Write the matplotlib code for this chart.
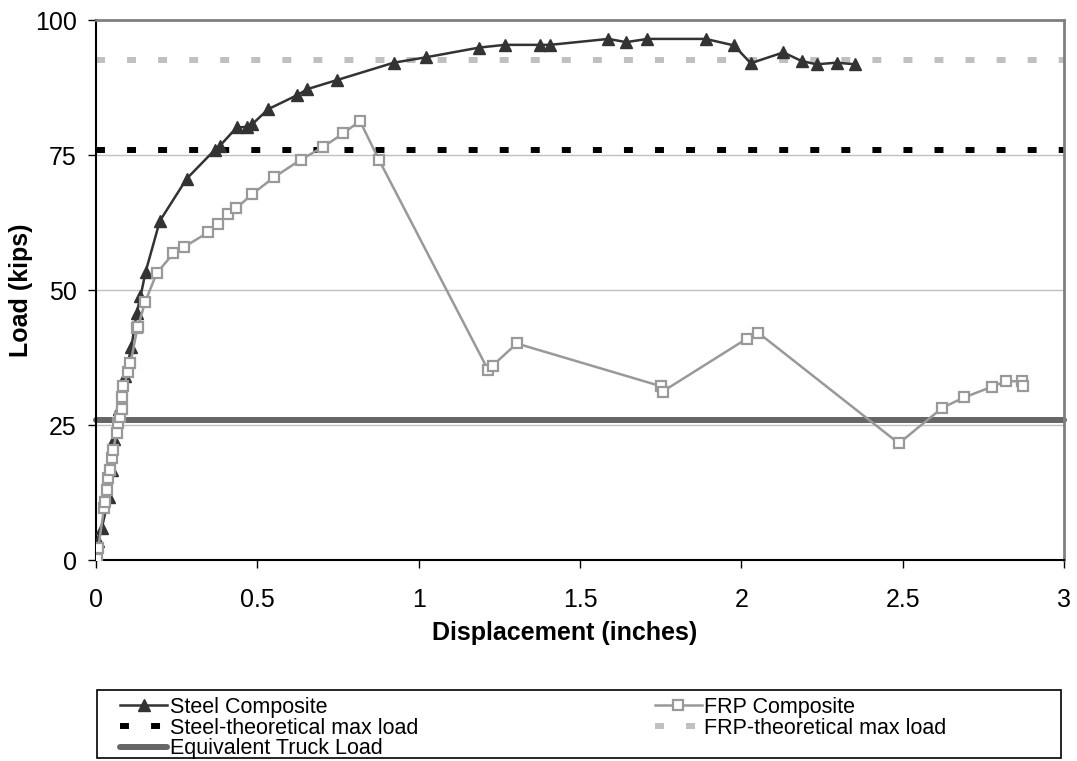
import matplotlib
matplotlib.use('Agg')
import matplotlib.pyplot as plt
from matplotlib.patches import Rectangle

plt.rcParams['font.family'] = ['Liberation Sans', 'DejaVu Sans']

# Steel composite girder test
steel_x = [0, 0.005, 0.018, 0.04, 0.05, 0.055, 0.07, 0.09, 0.11, 0.126, 0.138, 0.154,
           0.198, 0.281, 0.369, 0.384, 0.436, 0.467, 0.484, 0.534, 0.624, 0.655, 0.748,
           0.923, 1.023, 1.188, 1.267, 1.376, 1.407, 1.588, 1.643, 1.709, 1.889, 1.977,
           2.029, 2.130, 2.187, 2.233, 2.295, 2.352]
steel_y = [0, 3.6, 5.9, 11.7, 16.7, 22.5, 28.0, 34.0, 39.5, 45.7, 48.8, 53.4,
           62.8, 70.6, 76.0, 76.7, 80.1, 80.2, 80.7, 83.5, 86.1, 87.2, 88.9,
           92.1, 93.1, 94.9, 95.4, 95.4, 95.4, 96.5, 95.9, 96.5, 96.5, 95.3,
           92.0, 94.0, 92.4, 91.8, 92.1, 91.8]

# FRP composite girder test
frp_x = [0.002, 0.007, 0.025, 0.028, 0.035, 0.038, 0.043, 0.051, 0.053, 0.064, 0.069,
         0.074, 0.080, 0.082, 0.085, 0.100, 0.107, 0.128, 0.130, 0.152, 0.188, 0.240,
         0.274, 0.348, 0.379, 0.408, 0.434, 0.485, 0.552, 0.634, 0.704, 0.766, 0.818,
         0.877, 1.216, 1.229, 1.304, 1.750, 1.756, 2.017, 2.052, 2.488, 2.623, 2.690,
         2.777, 2.819, 2.871, 2.873]
frp_y = [0.2, 2.2, 9.6, 10.8, 13.0, 15.1, 16.7, 18.8, 20.4, 23.5, 25.3,
         26.5, 28.0, 30.1, 32.2, 34.8, 36.4, 42.9, 43.2, 47.7, 53.1, 56.8,
         58.0, 60.7, 62.3, 64.0, 65.1, 67.8, 70.9, 74.1, 76.5, 79.0, 81.3,
         74.1, 35.1, 36.0, 40.1, 32.2, 31.2, 41.0, 42.1, 21.6, 28.2, 30.1,
         32.1, 33.1, 33.1, 32.3]

steel_theory = 76.0
frp_theory = 92.6
truck_load = 26.0

fig = plt.figure(figsize=(10.77, 7.61), dpi=100)
ax = fig.add_axes([0.0891, 0.2641, 0.8989, 0.7096])

dash = (0, (1.5, 3.7))
ax.axhline(frp_theory, color='#c0c0c0', lw=4.3, ls=dash, dash_capstyle='butt', zorder=2,
           label='FRP-theoretical max load')
ax.axhline(steel_theory, color='black', lw=4.3, ls=dash, dash_capstyle='butt', zorder=2,
           label='Steel-theoretical max load')
ax.axhline(truck_load, color='#666666', lw=4.3, solid_capstyle='round', zorder=2,
           clip_on=False, label='Equivalent Truck Load')
ax.plot(steel_x, steel_y, color='#333333', lw=1.8, marker='^', ms=9, mfc='#333333',
        mec='#333333', zorder=3, label='Steel Composite')
ax.plot(frp_x, frp_y, color='#999999', lw=1.8, marker='s', ms=6.5, mfc='white',
        mec='#999999', mew=1.6, zorder=4, label='FRP Composite')

ax.set_xlim(0, 3)
ax.set_ylim(0, 100)
ax.set_xticks([0, 0.5, 1, 1.5, 2, 2.5, 3])
ax.set_xticklabels(['0', '0.5', '1', '1.5', '2', '2.5', '3'])
ax.set_yticks([0, 25, 50, 75, 100])
ax.yaxis.grid(True, color='#c0c0c0', lw=1)
ax.set_axisbelow(True)
ax.tick_params(labelsize=18, direction='out', length=6, width=1, color='black')
ax.tick_params(axis='x', pad=14)
ax.tick_params(axis='y', pad=8)
for s in ['top', 'right']:
    ax.spines[s].set_color('#808080')
    ax.spines[s].set_linewidth(2)
for s in ['left', 'bottom']:
    ax.spines[s].set_color('black')
    ax.spines[s].set_linewidth(1.5)

ax.set_xlabel('Displacement (inches)', fontsize=18, fontweight='bold')
ax.set_ylabel('Load (kips)', fontsize=18, fontweight='bold')
ax.xaxis.set_label_coords(0.484, -0.113)
ax.yaxis.set_label_coords(-0.065, 0.5)

handles, labels = ax.get_legend_handles_labels()
order = [3, 1, 2, 4, 0]
leg = fig.legend([handles[i] for i in order], [labels[i] for i in order], ncol=2,
                 loc='upper left', bbox_to_anchor=(120 / 1077, 1 - 697 / 761),
                 bbox_transform=fig.transFigure, frameon=False, fontsize=15.5,
                 handlelength=2.2, handletextpad=0.1, labelspacing=-0.02,
                 columnspacing=11.0, borderpad=0, borderaxespad=0)

fig.patches.append(Rectangle((97 / 1077, 3 / 761), 964 / 1077, 68 / 761,
                             transform=fig.transFigure, fill=False, edgecolor='black',
                             lw=1.2))

fig.savefig('out.png', dpi=100)
